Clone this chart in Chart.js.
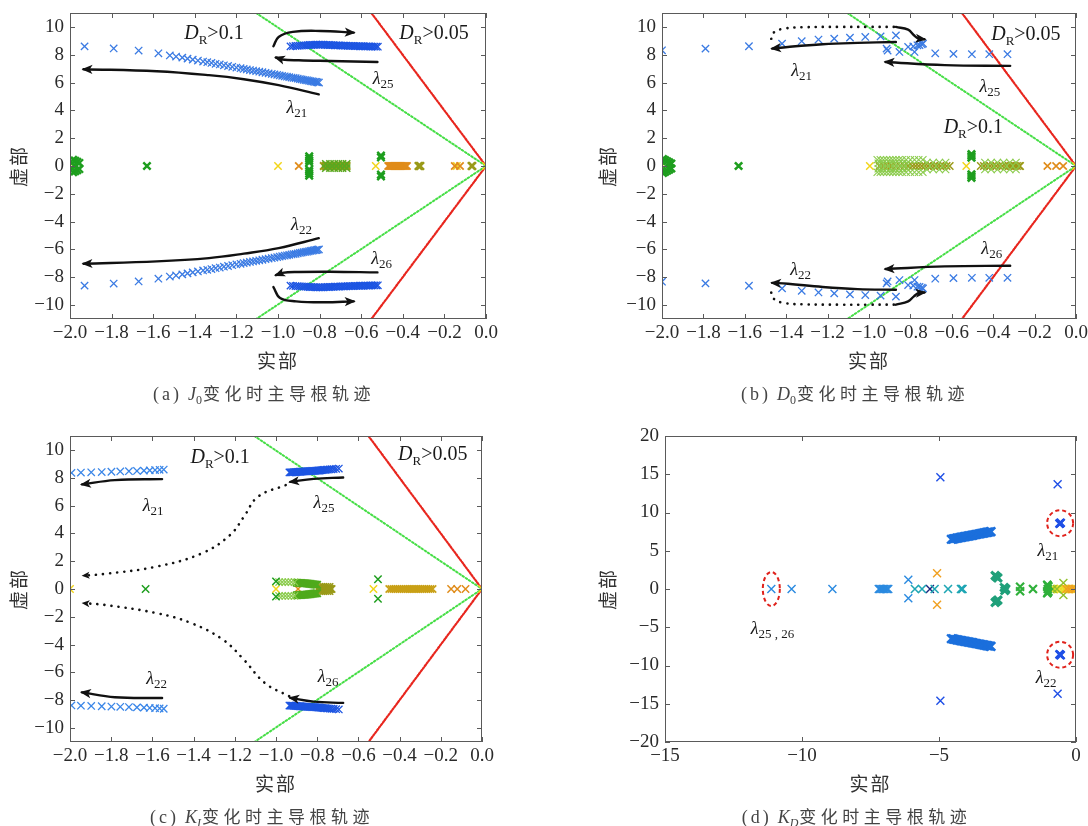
<!DOCTYPE html>
<html lang="zh">
<head>
<meta charset="utf-8">
<title>主导根轨迹</title>
<script src="https://cdn.jsdelivr.net/npm/chart.js@4.4.1/dist/chart.umd.min.js"></script>
<style>
  html, body { margin: 0; padding: 0; background: #fff; }
  #fig { position: relative; width: 1088px; height: 826px; overflow: hidden; background: #fff; }
  #fig canvas { position: absolute; }
</style>
</head>
<body>
<div id="fig">
  <canvas id="cA" width="544" height="413" style="left:0;top:0"></canvas>
  <canvas id="cB" width="544" height="413" style="left:544px;top:0"></canvas>
  <canvas id="cC" width="544" height="413" style="left:0;top:413px"></canvas>
  <canvas id="cD" width="544" height="413" style="left:544px;top:413px"></canvas>
</div>
<script>
const SERIF = '"Liberation Serif", "DejaVu Serif", serif';
const CJK = '"Noto Sans CJK SC", "Noto Sans", sans-serif';
Chart.defaults.font.family = SERIF;

// ---------- shared axes (panels a, b, c) ----------
const sweepReTicks = [-2.0, -1.8, -1.6, -1.4, -1.2, -1.0, -0.8, -0.6, -0.4, -0.2, 0.0];
const sweepImTicks = [-10, -8, -6, -4, -2, 0, 2, 4, 6, 8, 10];
// damping-ratio boundaries (zeta = 0.1 and zeta = 0.05)
const zeta10Re = [-1.105, 0, -1.105];
const zeta10Im = [11, 0, -11];
const zeta05Re = [-0.551, 0, -0.551];
const zeta05Im = [11, 0, -11];

// ---------- (a) J0 sweep ----------
const aL21Re = [-1.93,-1.79,-1.67,-1.575,-1.52,-1.49,-1.46,-1.435,-1.41,-1.385,-1.36,-1.34,-1.32,-1.30,-1.28,-1.26,-1.24,-1.22,-1.20,-1.18,-1.165,-1.15,-1.135,-1.12,-1.105,-1.09,-1.075,-1.06,-1.045,-1.03,-1.017,-1.004,-0.992,-0.98,-0.968,-0.957,-0.946,-0.935,-0.925,-0.915,-0.905,-0.895,-0.886,-0.877,-0.868,-0.86,-0.852,-0.844,-0.836,-0.829,-0.822,-0.815,-0.809,-0.803];
const aL21Im = [8.60,8.45,8.30,8.10,7.95,7.87,7.79,7.72,7.65,7.58,7.51,7.46,7.41,7.35,7.30,7.24,7.19,7.13,7.08,7.03,6.98,6.94,6.90,6.86,6.82,6.78,6.74,6.70,6.66,6.62,6.58,6.55,6.51,6.48,6.45,6.42,6.39,6.36,6.33,6.31,6.28,6.25,6.23,6.20,6.18,6.16,6.13,6.11,6.09,6.07,6.05,6.04,6.02,6.00];
const aL22Im = [-8.60,-8.45,-8.30,-8.10,-7.95,-7.87,-7.79,-7.72,-7.65,-7.58,-7.51,-7.46,-7.41,-7.35,-7.30,-7.24,-7.19,-7.13,-7.08,-7.03,-6.98,-6.94,-6.90,-6.86,-6.82,-6.78,-6.74,-6.70,-6.66,-6.62,-6.58,-6.55,-6.51,-6.48,-6.45,-6.42,-6.39,-6.36,-6.33,-6.31,-6.28,-6.25,-6.23,-6.20,-6.18,-6.16,-6.13,-6.11,-6.09,-6.07,-6.05,-6.04,-6.02,-6.00];
const aL25Re = [-0.94,-0.928,-0.916,-0.905,-0.895,-0.885,-0.875,-0.866,-0.857,-0.848,-0.84,-0.832,-0.824,-0.816,-0.808,-0.8,-0.792,-0.784,-0.776,-0.768,-0.76,-0.752,-0.744,-0.736,-0.728,-0.72,-0.712,-0.704,-0.696,-0.688,-0.68,-0.672,-0.664,-0.656,-0.648,-0.64,-0.632,-0.624,-0.616,-0.608,-0.6,-0.592,-0.584,-0.576,-0.568,-0.56,-0.552,-0.544,-0.536,-0.528,-0.52];
const aL25Im = [8.60,8.62,8.63,8.64,8.65,8.66,8.67,8.68,8.69,8.70,8.70,8.71,8.71,8.72,8.72,8.72,8.72,8.72,8.71,8.71,8.70,8.70,8.69,8.69,8.68,8.68,8.67,8.67,8.66,8.66,8.65,8.65,8.64,8.64,8.63,8.63,8.62,8.62,8.62,8.61,8.61,8.61,8.60,8.60,8.60,8.60,8.59,8.59,8.59,8.58,8.58];
const aL26Im = [-8.60,-8.62,-8.63,-8.64,-8.65,-8.66,-8.67,-8.68,-8.69,-8.70,-8.70,-8.71,-8.71,-8.72,-8.72,-8.72,-8.72,-8.72,-8.71,-8.71,-8.70,-8.70,-8.69,-8.69,-8.68,-8.68,-8.67,-8.67,-8.66,-8.66,-8.65,-8.65,-8.64,-8.64,-8.63,-8.63,-8.62,-8.62,-8.62,-8.61,-8.61,-8.61,-8.60,-8.60,-8.60,-8.60,-8.59,-8.59,-8.59,-8.58,-8.58];
const aGreenRe = [-1.985,-1.975,-1.965,-1.955,-1.985,-1.975,-1.965,-1.955,-1.98,-1.63,-0.85,-0.85,-0.85,-0.85,-0.85,-0.85,-0.85,-0.85,-0.505,-0.505,-0.505,-0.505];
const aGreenIm = [0.45,0.38,0.3,0.22,-0.45,-0.38,-0.3,-0.22,0,0,0.7,0.55,0.4,0.25,-0.25,-0.4,-0.55,-0.7,0.75,0.62,-0.75,-0.62];
const aGreenBandRe = [-0.77,-0.75,-0.73,-0.71,-0.69,-0.67,-0.77,-0.75,-0.73,-0.71,-0.69,-0.67];
const aGreenBandIm = [0.15,0.15,0.15,0.15,0.15,0.15,-0.15,-0.15,-0.15,-0.15,-0.15,-0.15];
const aOliveRe = [-0.78,-0.77,-0.765,-0.76,-0.755,-0.75,-0.745,-0.74,-0.735,-0.73,-0.725,-0.72,-0.715,-0.71,-0.705,-0.70,-0.695,-0.69,-0.685,-0.68,-0.675,-0.67,-0.325,-0.32,-0.315,-0.07,-0.065];
const aOliveIm = [0,0,0,0,0,0,0,0,0,0,0,0,0,0,0,0,0,0,0,0,0,0,0,0,0,0,0];
const aOrangeRe = [-0.9,-0.47,-0.465,-0.46,-0.455,-0.45,-0.445,-0.44,-0.435,-0.43,-0.425,-0.42,-0.415,-0.41,-0.405,-0.40,-0.395,-0.39,-0.385,-0.38,-0.15,-0.125];
const aOrangeIm = [0,0,0,0,0,0,0,0,0,0,0,0,0,0,0,0,0,0,0,0,0,0];
const aYellowRe = [-2.0,-1.0,-0.77,-0.53,-0.14,0.0];
const aYellowIm = [0,0,0,0,0,0];
// trend arrows (a)
const aArr21Re = [-0.804,-0.997,-1.164,-1.332,-1.583,-1.935];
const aArr21Im = [5.15,5.81,6.24,6.53,6.81,6.96];
const aArr22Im = [-5.19,-5.90,-6.30,-6.62,-6.86,-7.03];
const aArr25aRe = [-1.022,-0.997,-0.929,-0.795,-0.636];
const aArr25aIm = [8.61,9.28,9.64,9.71,9.59];
const aArr25bRe = [-0.522,-0.75,-0.9,-0.98,-1.01];
const aArr25bIm = [7.48,7.55,7.6,7.66,7.8];
const aArr26aRe = [-1.022,-0.99,-0.913,-0.779,-0.636];
const aArr26aIm = [-8.7,-9.49,-9.73,-9.8,-9.73];
const aArr26bIm = [-7.65,-7.6,-7.62,-7.68,-7.85];

// ---------- (b) D0 sweep ----------
const bL21Re = [-2.0,-1.79,-1.58,-1.42,-1.325,-1.244,-1.168,-1.092,-1.018,-0.944,-0.87];
const bL21Im = [8.32,8.44,8.61,8.80,8.97,9.09,9.16,9.23,9.28,9.32,9.39];
const bL22Im = [-8.32,-8.44,-8.61,-8.80,-8.97,-9.09,-9.16,-9.23,-9.28,-9.32,-9.39];
const bL25Re = [-0.915,-0.91,-0.853,-0.811,-0.786,-0.766,-0.756,-0.745,-0.739,-0.78,-0.68,-0.592,-0.503,-0.419,-0.331];
const bL25Im = [8.44,8.30,8.20,8.56,8.60,8.68,8.70,8.75,8.80,8.20,8.10,8.06,8.04,8.04,8.04];
const bL26Im = [-8.44,-8.30,-8.20,-8.56,-8.60,-8.68,-8.70,-8.75,-8.80,-8.20,-8.10,-8.06,-8.04,-8.04,-8.04];
const bGreenRe = [-1.995,-1.985,-1.975,-1.965,-1.955,-1.995,-1.985,-1.975,-1.965,-1.955,-1.63,-0.505,-0.505,-0.505,-0.505,-0.505,-0.505];
const bGreenIm = [0.5,0.42,0.34,0.26,0.18,-0.5,-0.42,-0.34,-0.26,-0.18,0,0.85,0.72,0.6,-0.85,-0.72,-0.6];
const bLightRe = [-0.96,-0.945,-0.93,-0.915,-0.9,-0.885,-0.87,-0.855,-0.84,-0.82,-0.80,-0.78,-0.76,-0.74,
                  -0.96,-0.945,-0.93,-0.915,-0.9,-0.885,-0.87,-0.855,-0.84,-0.82,-0.80,-0.78,-0.76,-0.74,
                  -0.955,-0.935,-0.915,-0.895,-0.875,-0.855,-0.835,-0.815,
                  -0.955,-0.935,-0.915,-0.895,-0.875,-0.855,-0.835,-0.815,
                  -0.72,-0.69,-0.66,-0.63,-0.72,-0.69,-0.66,-0.63,
                  -0.44,-0.41,-0.38,-0.35,-0.32,-0.29,-0.44,-0.41,-0.38,-0.35,-0.32,-0.29];
const bLightIm = [0.45,0.45,0.45,0.45,0.45,0.45,0.45,0.45,0.45,0.45,0.45,0.45,0.45,0.45,
                  -0.45,-0.45,-0.45,-0.45,-0.45,-0.45,-0.45,-0.45,-0.45,-0.45,-0.45,-0.45,-0.45,-0.45,
                  0.2,0.2,0.2,0.2,0.2,0.2,0.2,0.2,
                  -0.2,-0.2,-0.2,-0.2,-0.2,-0.2,-0.2,-0.2,
                  0.25,0.25,0.25,0.25,-0.25,-0.25,-0.25,-0.25,
                  0.25,0.25,0.25,0.25,0.25,0.25,-0.25,-0.25,-0.25,-0.25,-0.25,-0.25];
const bOliveRe = [-0.95,-0.93,-0.91,-0.89,-0.87,-0.85,-0.83,-0.81,-0.79,-0.775,-0.76,-0.745,-0.73,-0.715,-0.70,-0.685,-0.67,-0.655,-0.64,-0.625,-0.61,-0.46,-0.445,-0.43,-0.415,-0.40,-0.385,-0.37,-0.355,-0.34,-0.325,-0.315,-0.305,-0.295,-0.285,-0.275,-0.27];
const bOliveIm = [0,0,0,0,0,0,0,0,0,0,0,0,0,0,0,0,0,0,0,0,0,0,0,0,0,0,0,0,0,0,0,0,0,0,0,0,0];
const bOrangeRe = [-0.895,-0.138,-0.096,-0.062];
const bOrangeIm = [0,0,0,0];
const bYellowRe = [-2.0,-0.996,-0.53,0.0];
const bYellowIm = [0,0,0,0];
// trend arrows (b)
const bArr21Re = [-0.87,-1.055,-1.224,-1.392,-1.468];
const bArr21Im = [8.92,8.85,8.75,8.56,8.44];
const bArr22Im = [-8.9,-8.85,-8.7,-8.47,-8.4];
const bArr25Re = [-0.318,-0.634,-0.92];
const bArr25Im = [7.2,7.25,7.48];
const bArr26Im = [-7.17,-7.22,-7.41];
const bLoopRe = [-0.88,-1.0,-1.15,-1.3,-1.41,-1.46,-1.472,-1.465];
const bLoopUpIm = [10.0,10.0,10.0,9.98,9.88,9.6,9.2,8.85];
const bLoopDnIm = [-9.97,-9.97,-9.97,-9.95,-9.85,-9.55,-9.15,-8.8];
const bHookRe = [-0.87,-0.811,-0.783,-0.76,-0.732];
const bHookUpIm = [10.0,9.8,9.4,9.16,9.11];
const bHookDnIm = [-9.97,-9.73,-9.37,-9.13,-9.09];

// ---------- (c) KI sweep ----------
const cL21Re = [-1.993,-1.947,-1.897,-1.846,-1.799,-1.756,-1.714,-1.675,-1.641,-1.613,-1.587,-1.565,-1.545];
const cL21Im = [8.35,8.37,8.39,8.41,8.43,8.45,8.47,8.49,8.51,8.53,8.55,8.57,8.59];
const cL22Im = [-8.37,-8.39,-8.41,-8.43,-8.45,-8.47,-8.49,-8.51,-8.53,-8.55,-8.57,-8.59,-8.61];
const cL25Re = [-0.935,-0.93,-0.925,-0.92,-0.915,-0.91,-0.905,-0.9,-0.895,-0.89,-0.885,-0.88,-0.875,-0.87,-0.865,-0.86,-0.855,-0.85,-0.845,-0.84,-0.835,-0.83,-0.825,-0.82,-0.815,-0.81,-0.805,-0.8,-0.795,-0.79,-0.785,-0.78,-0.774,-0.768,-0.762,-0.755,-0.748,-0.74,-0.731,-0.72,-0.708,-0.695];
const cL25Im = [8.38,8.38,8.39,8.39,8.40,8.40,8.41,8.41,8.42,8.42,8.43,8.43,8.44,8.44,8.45,8.45,8.46,8.46,8.47,8.47,8.48,8.48,8.49,8.49,8.50,8.50,8.51,8.51,8.52,8.52,8.53,8.54,8.55,8.56,8.57,8.58,8.59,8.60,8.61,8.62,8.64,8.66];
const cL26Im = [-8.38,-8.38,-8.39,-8.39,-8.40,-8.40,-8.41,-8.41,-8.42,-8.42,-8.43,-8.43,-8.44,-8.44,-8.45,-8.45,-8.46,-8.46,-8.47,-8.47,-8.48,-8.48,-8.49,-8.49,-8.50,-8.50,-8.51,-8.51,-8.52,-8.52,-8.53,-8.54,-8.55,-8.56,-8.57,-8.58,-8.59,-8.60,-8.61,-8.62,-8.64,-8.66];
const cGreenRe = [-1.633,-1.0,-1.0,-0.505,-0.505];
const cGreenIm = [0,0.55,-0.55,0.7,-0.7];
const cLightRe = [-0.985,-0.97,-0.955,-0.94,-0.925,-0.91,-0.985,-0.97,-0.955,-0.94,-0.925,-0.91];
const cLightIm = [0.5,0.5,0.5,0.5,0.5,0.5,-0.5,-0.5,-0.5,-0.5,-0.5,-0.5];
const cBandRe = [-0.9,-0.895,-0.89,-0.885,-0.88,-0.875,-0.87,-0.865,-0.86,-0.855,-0.85,-0.845,-0.84,-0.835,-0.83,-0.825,-0.82,-0.815,-0.81,-0.805,-0.8,
                 -0.9,-0.895,-0.89,-0.885,-0.88,-0.875,-0.87,-0.865,-0.86,-0.855,-0.85,-0.845,-0.84,-0.835,-0.83,-0.825,-0.82,-0.815,-0.81,-0.805,-0.8];
const cBandIm = [0.45,0.45,0.44,0.44,0.43,0.43,0.42,0.42,0.41,0.41,0.40,0.39,0.38,0.37,0.36,0.35,0.34,0.33,0.32,0.31,0.30,
                 -0.45,-0.45,-0.44,-0.44,-0.43,-0.43,-0.42,-0.42,-0.41,-0.41,-0.40,-0.39,-0.38,-0.37,-0.36,-0.35,-0.34,-0.33,-0.32,-0.31,-0.30];
const cOliveRe = [-0.79,-0.785,-0.78,-0.775,-0.77,-0.765,-0.76,-0.755,-0.75,-0.745,-0.74,-0.735,-0.73,-0.79,-0.78,-0.77,-0.76,-0.75,-0.74,-0.79,-0.78,-0.77,-0.76,-0.75,-0.74];
const cOliveIm = [0,0,0,0,0,0,0,0,0,0,0,0,0,0.15,0.15,0.15,0.15,0.15,0.15,-0.15,-0.15,-0.15,-0.15,-0.15,-0.15];
const cGoldRe = [-0.45,-0.44,-0.43,-0.42,-0.41,-0.40,-0.39,-0.38,-0.37,-0.36,-0.35,-0.34,-0.33,-0.32,-0.31,-0.30,-0.29,-0.28,-0.27,-0.26,-0.25,-0.24];
const cGoldIm = [0,0,0,0,0,0,0,0,0,0,0,0,0,0,0,0,0,0,0,0,0,0];
const cOrangeRe = [-0.893,-0.15,-0.12,-0.08];
const cOrangeIm = [0,0,0,0];
const cYellowRe = [-2.0,-1.0,-0.758,-0.527,0.0];
const cYellowIm = [0,0,0,0,0];
// trend arrows (c)
const cArr21Re = [-1.553,-1.782,-1.942];
const cArr21Im = [7.9,7.83,7.52];
const cArr22Im = [-7.84,-7.78,-7.43];
const cArr25Re = [-0.674,-0.817,-0.931];
const cArr25Im = [8.02,7.92,7.7];
const cArr26Im = [-8.19,-8.1,-7.83];
const cDot25Re = [-0.953,-1.088,-1.156,-1.223,-1.359,-1.579,-1.833,-1.934];
const cDot25Im = [7.47,6.63,5.19,3.88,2.57,1.61,1.08,0.96];
const cDot26Re = [-0.936,-1.054,-1.156,-1.257,-1.41,-1.579,-1.833,-1.934];
const cDot26Im = [-7.71,-6.76,-5.08,-3.65,-2.46,-1.74,-1.14,-1.02];

// ---------- (d) KD sweep ----------
const dReTicks = [-15, -10, -5, 0];
const dImTicks = [-20, -15, -10, -5, 0, 5, 10, 15, 20];
const dBlueRe = [-4.95,-4.95,-0.67,-0.67];
const dBlueIm = [14.6,-14.6,13.7,-13.7];
const dBoldRe = [-0.6,-0.58,-0.56,-0.6,-0.58,-0.56];
const dBoldIm = [8.55,8.6,8.65,-8.55,-8.6,-8.65];
const dBandRe = [-4.55,-4.5,-4.45,-4.4,-4.35,-4.3,-4.25,-4.2,-4.15,-4.1,-4.05,-4.0,-3.95,-3.9,-3.85,-3.8,-3.75,-3.7,-3.65,-3.6,-3.55,-3.5,-3.45,-3.4,-3.35,-3.3,-3.25,-3.2,-3.15,-3.1];
const dBandUpIm = [6.50,6.53,6.57,6.60,6.64,6.67,6.71,6.74,6.78,6.81,6.85,6.88,6.91,6.95,6.98,7.02,7.05,7.09,7.12,7.16,7.19,7.22,7.26,7.29,7.33,7.36,7.40,7.43,7.47,7.50];
const dBandDnIm = [-6.50,-6.53,-6.57,-6.60,-6.64,-6.67,-6.71,-6.74,-6.78,-6.81,-6.85,-6.88,-6.91,-6.95,-6.98,-7.02,-7.05,-7.09,-7.12,-7.16,-7.19,-7.22,-7.26,-7.29,-7.33,-7.36,-7.40,-7.43,-7.47,-7.50];
const dSkyRe = [-11.12,-10.38,-8.89,-7.2,-7.15,-7.1,-7.05,-7.0,-6.95,-6.9,-6.85,-6.12,-6.12];
const dSkyIm = [0,0,0,0,0,0,0,0,0,0,0,1.2,-1.2];
const dTealRe = [-5.88,-5.62,-5.16,-4.67,-4.2,-4.17,-4.14];
const dTealIm = [0,0,0,0,0,0,0];
const dNavyRe = [-5.33];
const dNavyIm = [0];
const dOrangeRe = [-5.07,-5.07,-0.35,-0.25,-0.15,-0.05];
const dOrangeIm = [2.05,-2.05,0,0,0,0];
const dSeaRe = [-2.95,-2.9,-2.85,-2.95,-2.9,-2.85,-2.62,-2.56,-2.6];
const dSeaIm = [1.75,1.6,1.45,-1.75,-1.6,-1.45,0.2,0,-0.2];
const dGreenRe = [-2.04,-2.04,-1.57,-1.05,-1.03,-1.01,-1.05,-1.03,-1.01,-1.03];
const dGreenIm = [0.3,-0.3,0,0.55,0.45,0.35,-0.55,-0.45,-0.35,0];
const dLimeRe = [-0.46,-0.46,-0.85,-0.7];
const dLimeIm = [0.8,-0.8,0,0];
const dYellowRe = [-0.9,-0.8,-0.65,-0.55,-0.45,-0.4,-0.3,-0.2,-0.1,0];
const dYellowIm = [0,0,0,0,0,0,0,0,0,0];

// ---------- helpers ----------
const pts = (re, im) => re.map((x, i) => ({ x, y: im[i] }));
function marks(re, im, color, r = 5.2, w = 1.3) {
  return { data: pts(re, im), showLine: false, pointStyle: 'crossRot', pointRadius: r, pointHoverRadius: r,
           pointBorderColor: color, pointBackgroundColor: color, pointBorderWidth: w, borderColor: color, order: 0 };
}
function curve(re, im, color, w, dash, arrow, tension = 0.4, order = -1) {
  return { data: pts(re, im), showLine: true, pointRadius: 0, pointHoverRadius: 0, borderColor: color,
           borderWidth: w, borderDash: dash || [], borderCapStyle: 'round', tension, fill: false, arrow, order };
}
const boundaries = () => [
  curve(zeta10Re, zeta10Im, '#46de46', 2, [1.6, 2.2], null, 0, 2),
  curve(zeta05Re, zeta05Im, '#e8261e', 2.2, [1.6, 1.6], null, 0, 2)
];
const fmt1 = v => (Math.abs(v) < 1e-9 ? '0.0' : v.toFixed(1)).replace('-', '\u2212');
const fmt0 = v => String(Math.round(v)).replace('-', '\u2212');

function richWidth(ctx, parts) {
  let w = 0;
  for (const p of parts) {
    ctx.font = p.f;
    for (const ch of p.t) w += ctx.measureText(ch).width + (p.ls || 0);
    w += p.gap || 0;
  }
  return w;
}
function drawRich(ctx, parts, cx, baseY) {
  let x = cx - richWidth(ctx, parts) / 2;
  ctx.textAlign = 'left';
  ctx.textBaseline = 'alphabetic';
  for (const p of parts) {
    ctx.font = p.f;
    for (const ch of p.t) {
      ctx.fillText(ch, x, baseY + (p.dy || 0));
      x += ctx.measureText(ch).width + (p.ls || 0);
    }
    x += p.gap || 0;
  }
}
const lam = s => [{ t: '\u03bb', f: `italic 18px ${SERIF}` }, { t: s, f: `13px ${SERIF}`, dy: 4 }];
const drTxt = v => [{ t: 'D', f: `italic 20px ${SERIF}` }, { t: 'R', f: `13px ${SERIF}`, dy: 5 }, { t: '>' + v, f: `20px ${SERIF}` }];
const caption = (tag, sym, sub, subItalic) => [
  { t: '(' + tag + ')', f: `18px ${SERIF}`, ls: 3, gap: 6 },
  { t: sym, f: `italic 18px ${SERIF}` },
  { t: sub, f: `${subItalic ? 'italic ' : ''}12px ${SERIF}`, dy: 4, gap: 1 },
  { t: '变化时主导根轨迹', f: `17px ${CJK}`, ls: 4.5 }
];

// frame, inward ticks, arrowheads, annotations and titles
const decor = {
  id: 'decor',
  afterDatasetsDraw(chart, args, o) {
    const { ctx, chartArea: a, scales: { x, y } } = chart;
    ctx.save();
    // arrowheads at the end of trend curves
    chart.data.datasets.forEach((ds, i) => {
      if (!ds.arrow) return;
      const els = chart.getDatasetMeta(i).data;
      const p = els[els.length - 1], q = els[els.length - 2];
      let bx = p.cp1x, by = p.cp1y;
      if (bx == null || Math.hypot(p.x - bx, p.y - by) < 0.5) { bx = q.x; by = q.y; }
      const ang = Math.atan2(p.y - by, p.x - bx);
      const L = ds.arrow === 'small' ? 8 : 11, H = ds.arrow === 'small' ? 3.5 : 4.6;
      const c = Math.cos(ang), s = Math.sin(ang);
      const tx = p.x + c * 2, ty = p.y + s * 2;
      ctx.fillStyle = '#111';
      ctx.beginPath();
      ctx.moveTo(tx, ty);
      ctx.lineTo(tx - L * c - H * s, ty - L * s + H * c);
      ctx.lineTo(tx - L * c * 0.75, ty - L * s * 0.75);
      ctx.lineTo(tx - L * c + H * s, ty - L * s - H * c);
      ctx.closePath();
      ctx.fill();
    });
    // dashed highlight rings
    ctx.strokeStyle = '#e0221c';
    ctx.lineWidth = 2;
    ctx.setLineDash([4, 3]);
    (o.rings || []).forEach(r => {
      ctx.beginPath();
      ctx.ellipse(x.getPixelForValue(r.x), y.getPixelForValue(r.y), r.rx, r.ry, 0, 0, Math.PI * 2);
      ctx.stroke();
    });
    ctx.setLineDash([]);
    // box and inward tick marks
    ctx.strokeStyle = '#5a5a5a';
    ctx.lineWidth = 1;
    ctx.strokeRect(a.left + 0.5, a.top + 0.5, a.right - a.left - 1, a.bottom - a.top - 1);
    ctx.beginPath();
    o.xTicks.forEach(v => {
      const px = Math.round(x.getPixelForValue(v)) + 0.5;
      ctx.moveTo(px, a.bottom); ctx.lineTo(px, a.bottom - 5);
      ctx.moveTo(px, a.top); ctx.lineTo(px, a.top + 5);
    });
    o.yTicks.forEach(v => {
      const py = Math.round(y.getPixelForValue(v)) + 0.5;
      ctx.moveTo(a.left, py); ctx.lineTo(a.left + 5, py);
      ctx.moveTo(a.right, py); ctx.lineTo(a.right - 5, py);
    });
    ctx.stroke();
    // annotations in data coordinates
    ctx.fillStyle = '#1a1a1a';
    (o.labels || []).forEach(l => {
      const parts = l.k === 'dr' ? drTxt(l.s) : lam(l.s);
      const size = l.k === 'dr' ? 20 : 18;
      drawRich(ctx, parts, x.getPixelForValue(l.x), y.getPixelForValue(l.y) + size * 0.33);
    });
    // axis titles and caption
    ctx.fillStyle = '#333';
    const cx = (a.left + a.right) / 2, cy = (a.top + a.bottom) / 2;
    drawRich(ctx, [{ t: '实部', f: `19px ${CJK}`, ls: 2 }], cx, a.bottom + 49);
    ctx.save();
    ctx.translate(a.left - o.yTitleDx, cy);
    ctx.rotate(-Math.PI / 2);
    drawRich(ctx, [{ t: '虚部', f: `19px ${CJK}`, ls: 2 }], 0, 7);
    ctx.restore();
    ctx.fillStyle = '#444';
    drawRich(ctx, o.caption, cx - 14, a.bottom + 81);
    ctx.restore();
  }
};

function makeChart(id, p) {
  const W = 544, H = 413;
  return new Chart(document.getElementById(id), {
    type: 'scatter',
    data: { datasets: p.datasets },
    options: {
      responsive: false, animation: false, devicePixelRatio: 1,
      layout: { padding: { left: 0, top: p.area.top, right: W - p.area.right, bottom: 0 } },
      scales: {
        x: {
          type: 'linear', min: p.xMin, max: p.xMax,
          afterBuildTicks: s => { s.ticks = p.xTicks.map(v => ({ value: v })); },
          afterFit: s => { s.height = H - p.area.bottom; s.paddingLeft = 0; s.paddingRight = 0; },
          grid: { display: false, drawTicks: false }, border: { display: false },
          ticks: { padding: 3, color: '#2a2a2a', font: { family: SERIF, size: 19 }, maxRotation: 0, autoSkip: false, callback: p.xFmt }
        },
        y: {
          type: 'linear', min: p.yMin, max: p.yMax,
          afterBuildTicks: s => { s.ticks = p.yTicks.map(v => ({ value: v })); },
          afterFit: s => { s.width = p.area.left; s.paddingTop = 0; s.paddingBottom = 0; },
          grid: { display: false, drawTicks: false }, border: { display: false },
          ticks: { padding: 6, color: '#2a2a2a', font: { family: SERIF, size: 19 }, autoSkip: false, callback: p.yFmt }
        }
      },
      plugins: {
        legend: { display: false }, tooltip: { enabled: false },
        decor: { xTicks: p.xTicks, yTicks: p.yTicks, labels: p.labels, rings: p.rings, caption: p.caption, yTitleDx: p.yTitleDx }
      }
    },
    plugins: [decor]
  });
}

const BLUE_A = '#3b7be3', BLUE_B = '#1d55e2', GREEN = '#1e9e1e', OLIVE = '#9a9a18', ORANGE = '#e08c1a',
      YELLOW = '#f2d51a', LIGHTG = '#8ccc4e', GOLD = '#c9a016';

// (a)
makeChart('cA', {
  area: { left: 70, right: 486, top: 13, bottom: 319 },
  xMin: -2, xMax: 0, yMin: -11, yMax: 11, xTicks: sweepReTicks, yTicks: sweepImTicks, xFmt: fmt1, yFmt: fmt0, yTitleDx: 51,
  caption: caption('a', 'J', '0', false),
  datasets: [
    ...boundaries(),
    marks(aL21Re, aL21Im, BLUE_A), marks(aL21Re, aL22Im, BLUE_A),
    marks(aL25Re, aL25Im, BLUE_B), marks(aL25Re, aL26Im, BLUE_B),
    marks(aGreenRe, aGreenIm, GREEN, 5.2, 2.4),
    marks(aGreenBandRe, aGreenBandIm, '#5aa820', 5.2, 1.6),
    marks(aOliveRe, aOliveIm, OLIVE, 5.2, 2),
    marks(aOrangeRe, aOrangeIm, ORANGE, 5.2, 1.8),
    marks(aYellowRe, aYellowIm, YELLOW, 5.2, 1.5),
    curve(aArr21Re, aArr21Im, '#111', 2.4, null, 'big'),
    curve(aArr21Re, aArr22Im, '#111', 2.4, null, 'big'),
    curve(aArr25aRe, aArr25aIm, '#111', 2.4, null, 'big'),
    curve(aArr25bRe, aArr25bIm, '#111', 2.4, null, 'big'),
    curve(aArr26aRe, aArr26aIm, '#111', 2.4, null, 'big'),
    curve(aArr25bRe, aArr26bIm, '#111', 2.4, null, 'big')
  ],
  labels: [
    { k: 'dr', s: '0.1', x: -1.308, y: 9.61 }, { k: 'dr', s: '0.05', x: -0.25, y: 9.61 },
    { k: 'lam', s: '21', x: -0.909, y: 4.23 }, { k: 'lam', s: '25', x: -0.495, y: 6.31 },
    { k: 'lam', s: '22', x: -0.887, y: -4.16 }, { k: 'lam', s: '26', x: -0.502, y: -6.62 }
  ]
});

// (b)
makeChart('cB', {
  area: { left: 118, right: 532, top: 13, bottom: 319 },
  xMin: -2, xMax: 0, yMin: -11, yMax: 11, xTicks: sweepReTicks, yTicks: sweepImTicks, xFmt: fmt1, yFmt: fmt0, yTitleDx: 54,
  caption: caption('b', 'D', '0', false),
  datasets: [
    ...boundaries(),
    marks(bL21Re, bL21Im, BLUE_A), marks(bL21Re, bL22Im, BLUE_A),
    marks(bL25Re, bL25Im, BLUE_A), marks(bL25Re, bL26Im, BLUE_A),
    marks(bGreenRe, bGreenIm, GREEN, 5.2, 2.6),
    marks(bLightRe, bLightIm, LIGHTG, 5.2, 1.1),
    marks(bOliveRe, bOliveIm, OLIVE, 5.2, 1.5),
    marks(bOrangeRe, bOrangeIm, ORANGE, 5.2, 1.6),
    marks(bYellowRe, bYellowIm, YELLOW, 5.2, 1.5),
    curve(bArr21Re, bArr21Im, '#111', 2.4, null, 'big'),
    curve(bArr21Re, bArr22Im, '#111', 2.4, null, 'big'),
    curve(bArr25Re, bArr25Im, '#111', 2.4, null, 'big'),
    curve(bArr25Re, bArr26Im, '#111', 2.4, null, 'big'),
    curve(bHookRe, bHookUpIm, '#111', 2.4, null, 'big'),
    curve(bHookRe, bHookDnIm, '#111', 2.4, null, 'big'),
    curve(bLoopRe, bLoopUpIm, '#111', 2.6, [0.1, 7], null),
    curve(bLoopRe, bLoopDnIm, '#111', 2.6, [0.1, 7], null)
  ],
  labels: [
    { k: 'dr', s: '0.05', x: -0.242, y: 9.52 }, { k: 'dr', s: '0.1', x: -0.496, y: 2.87 },
    { k: 'lam', s: '21', x: -1.325, y: 6.89 }, { k: 'lam', s: '25', x: -0.416, y: 5.74 },
    { k: 'lam', s: '22', x: -1.33, y: -7.41 }, { k: 'lam', s: '26', x: -0.407, y: -5.9 }
  ]
});

// (c)
makeChart('cC', {
  area: { left: 70, right: 482, top: 23, bottom: 329 },
  xMin: -2, xMax: 0, yMin: -11, yMax: 11, xTicks: sweepReTicks, yTicks: sweepImTicks, xFmt: fmt1, yFmt: fmt0, yTitleDx: 51,
  caption: caption('c', 'K', 'I', true),
  datasets: [
    ...boundaries(),
    marks(cL21Re, cL21Im, '#3a86e8'), marks(cL21Re, cL22Im, '#3a86e8'),
    marks(cL25Re, cL25Im, BLUE_B), marks(cL25Re, cL26Im, BLUE_B),
    marks(cGreenRe, cGreenIm, GREEN, 5.2, 1.5),
    marks(cLightRe, cLightIm, LIGHTG, 5.2, 1.2),
    marks(cBandRe, cBandIm, '#4faa1c', 5.2, 1.6),
    marks(cOliveRe, cOliveIm, OLIVE, 5.2, 1.6),
    marks(cGoldRe, cGoldIm, GOLD, 5.2, 1.6),
    marks(cOrangeRe, cOrangeIm, ORANGE, 5.2, 1.5),
    marks(cYellowRe, cYellowIm, YELLOW, 5.2, 1.5),
    curve(cArr21Re, cArr21Im, '#111', 2.4, null, 'big'),
    curve(cArr21Re, cArr22Im, '#111', 2.4, null, 'big'),
    curve(cArr25Re, cArr25Im, '#111', 2.4, null, 'big'),
    curve(cArr25Re, cArr26Im, '#111', 2.4, null, 'big'),
    curve(cDot25Re, cDot25Im, '#111', 2.6, [0.1, 7], 'small'),
    curve(cDot26Re, cDot26Im, '#111', 2.6, [0.1, 7], 'small')
  ],
  labels: [
    { k: 'dr', s: '0.1', x: -1.271, y: 9.5 }, { k: 'dr', s: '0.05', x: -0.239, y: 9.74 },
    { k: 'lam', s: '21', x: -1.596, y: 6.03 }, { k: 'lam', s: '25', x: -0.767, y: 6.27 },
    { k: 'lam', s: '22', x: -1.579, y: -6.4 }, { k: 'lam', s: '26', x: -0.747, y: -6.23 }
  ]
});

// (d)
makeChart('cD', {
  area: { left: 121, right: 532, top: 23, bottom: 329 },
  xMin: -15, xMax: 0, yMin: -20, yMax: 20, xTicks: dReTicks, yTicks: dImTicks, xFmt: fmt0, yFmt: fmt0, yTitleDx: 57,
  caption: caption('d', 'K', 'D', true),
  datasets: [
    marks(dBlueRe, dBlueIm, '#1f4fe6', 5.6, 1.4),
    marks(dBoldRe, dBoldIm, '#1f4fe6', 5.6, 2.4),
    marks(dBandRe, dBandUpIm, '#1b6fdc', 6, 2.4), marks(dBandRe, dBandDnIm, '#1b6fdc', 6, 2.4),
    marks(dSkyRe, dSkyIm, '#2a8ae0', 5.6, 1.4),
    marks(dTealRe, dTealIm, '#1fa6b4', 5.6, 1.6),
    marks(dNavyRe, dNavyIm, '#1a237e', 5.6, 1.4),
    marks(dOrangeRe, dOrangeIm, '#f0a020', 5.6, 1.4),
    marks(dSeaRe, dSeaIm, '#1fa07a', 5.6, 3),
    marks(dGreenRe, dGreenIm, '#2fb03a', 5.6, 2.2),
    marks(dLimeRe, dLimeIm, '#8fbf2a', 5.6, 1.4),
    marks(dYellowRe, dYellowIm, '#ecdc22', 5.6, 1.6)
  ],
  rings: [
    { x: -0.58, y: 8.6, rx: 13, ry: 13 }, { x: -0.58, y: -8.6, rx: 13, ry: 13 },
    { x: -11.12, y: 0, rx: 8.5, ry: 17 }
  ],
  labels: [
    { k: 'lam', s: '21', x: -1.03, y: 5.1 }, { k: 'lam', s: '22', x: -1.09, y: -11.46 },
    { k: 'lam', s: '25 , 26', x: -11.08, y: -5.14 }
  ]
});
</script>
</body>
</html>
